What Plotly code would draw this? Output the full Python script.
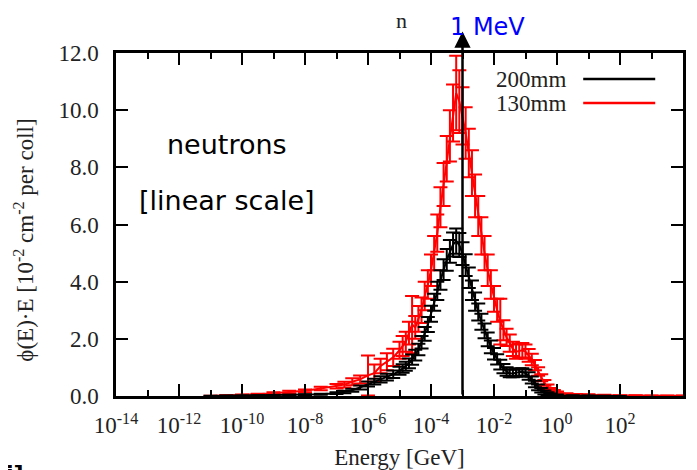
import numpy as np
import plotly.graph_objects as go

# log10(E/GeV) bins and phi(E)*E values [1e-2 cm^-2 per coll]
black_loge = [-11.0, -10.5, -10.0, -9.5, -9.0, -8.5, -8.0, -7.5, -7.0, -6.75, -6.5, -6.25, -6.0,
              -5.8, -5.6, -5.4, -5.2,
              -5.0, -4.9, -4.8, -4.7, -4.6, -4.5, -4.4, -4.3, -4.2, -4.1,
              -4.0, -3.9, -3.8, -3.7, -3.6, -3.5, -3.4, -3.3, -3.2, -3.1,
              -3.0, -2.9, -2.8, -2.7, -2.6, -2.5, -2.4, -2.3, -2.2, -2.1,
              -2.0, -1.9, -1.8, -1.7, -1.6, -1.5, -1.4, -1.3, -1.2, -1.1,
              -1.0, -0.9, -0.8, -0.7, -0.6, -0.5, -0.4, -0.3, -0.2,
              0.0, 0.5, 1.0, 1.5, 2.0]
black_val = [0.0, 0.005, 0.01, 0.015, 0.02, 0.03, 0.04, 0.06, 0.10, 0.14, 0.2, 0.3, 0.42,
             0.5, 0.58, 0.66, 0.76,
             0.88, 0.96, 1.04, 1.14, 1.27, 1.43, 1.63, 1.88, 2.17, 2.5,
             2.88, 3.28, 3.68, 4.06, 4.42, 4.76, 5.06, 5.3, 5.42, 5.28,
             4.98, 4.58, 4.14, 3.7, 3.3, 2.94, 2.6, 2.28, 1.98, 1.72,
             1.48, 1.28, 1.1, 0.96, 0.86, 0.8, 0.79, 0.81, 0.84, 0.84,
             0.8, 0.7, 0.56, 0.42, 0.3, 0.2, 0.12, 0.07, 0.04,
             0.02, 0.01, 0.005, 0.002, 0.0]
black_err = [0.01, 0.01, 0.01, 0.01, 0.01, 0.01, 0.02, 0.02, 0.03, 0.04, 0.05, 0.07, 0.09,
             0.1, 0.11, 0.12, 0.13,
             0.14, 0.15, 0.16, 0.17, 0.18, 0.19, 0.2, 0.22, 0.24, 0.26,
             0.28, 0.3, 0.32, 0.34, 0.36, 0.38, 0.4, 0.42, 0.44, 0.42,
             0.4, 0.38, 0.36, 0.34, 0.32, 0.3, 0.28, 0.26, 0.24, 0.22,
             0.2, 0.18, 0.17, 0.16, 0.15, 0.14, 0.13, 0.13, 0.13, 0.13,
             0.13, 0.13, 0.12, 0.11, 0.1, 0.08, 0.07, 0.06, 0.05,
             0.03, 0.02, 0.01, 0.01, 0.0]

red_loge = [-11.0, -10.5, -10.0, -9.5, -9.0, -8.5, -8.0, -7.5, -7.0, -6.75, -6.5, -6.25, -6.0,
            -5.8, -5.6, -5.4, -5.2,
            -5.0, -4.9, -4.8, -4.7, -4.6, -4.5, -4.4, -4.3, -4.2, -4.1,
            -4.0, -3.9, -3.8, -3.7, -3.6, -3.5, -3.4, -3.3, -3.2, -3.1,
            -3.0, -2.9, -2.8, -2.7, -2.6, -2.5, -2.4, -2.3, -2.2, -2.1,
            -2.0, -1.9, -1.8, -1.7, -1.6, -1.5, -1.4, -1.3, -1.2, -1.1,
            -1.0, -0.9, -0.8, -0.7, -0.6, -0.5, -0.4, -0.3, -0.2,
            -0.1, 0.0, 0.3, 0.6, 1.0, 1.5, 2.0, 2.5, 3.0, 3.5, 4.0]
red_val = [0.0, 0.02, 0.03, 0.06, 0.1, 0.14, 0.18, 0.26, 0.34, 0.4, 0.5, 0.58, 0.72,
           0.8, 1.05, 1.2, 1.35,
           1.6, 1.75, 1.9, 2.2, 2.5, 2.4, 2.7, 3.0, 3.5, 3.9,
           4.4, 5.0, 5.7, 6.6, 7.4, 8.3, 9.1, 9.9, 10.6, 10.3,
           9.8, 9.2, 8.5, 7.8, 7.0, 6.3, 5.6, 5.0, 4.4, 3.9,
           3.4, 3.0, 2.6, 2.3, 2.05, 1.85, 1.65, 1.55, 1.58, 1.6,
           1.55, 1.42, 1.28, 1.08, 0.86, 0.64, 0.46, 0.32, 0.22,
           0.16, 0.12, 0.07, 0.05, 0.04, 0.03, 0.02, 0.02, 0.01, 0.01, 0.01]
red_err = [0.01, 0.01, 0.02, 0.02, 0.03, 0.04, 0.05, 0.06, 0.08, 0.1, 0.12, 0.14, 0.7,
           0.3, 0.25, 0.3, 0.3,
           0.3, 0.35, 0.35, 0.4, 1.0, 0.4, 0.45, 0.45, 0.5, 0.5,
           0.55, 0.6, 0.65, 0.7, 0.75, 0.8, 0.9, 1.0, 1.3, 1.1,
           1.0, 0.9, 0.85, 0.8, 0.75, 0.7, 0.65, 0.6, 0.55, 0.5,
           0.45, 0.4, 0.8, 0.35, 0.3, 0.3, 0.25, 0.25, 0.25, 0.25,
           0.25, 0.22, 0.2, 0.18, 0.15, 0.12, 0.1, 0.08, 0.06,
           0.05, 0.04, 0.03, 0.02, 0.02, 0.01, 0.01, 0.01, 0.01, 0.01, 0.01]

x_exps = [-14, -12, -10, -8, -6, -4, -2, 0, 2, 4]
x_minor_exps = [-13, -11, -9, -7, -5, -3, -1, 1, 3]
y_ticks = [0, 2, 4, 6, 8, 10, 12]

serif = "Liberation Serif"
sans = "DejaVu Sans"

fig = go.Figure()

# red first so the 200mm band sits on top where they overlap
for name, loge, val, err, col in [("130mm", red_loge, red_val, red_err, "#ff0000"),
                                  ("200mm", black_loge, black_val, black_err, "#000000")]:
    fig.add_trace(go.Scatter(
        x=10.0 ** np.array(loge), y=val, mode="lines", name=name,
        line=dict(color=col, width=2),
        error_y=dict(type="data", array=err, color=col, thickness=2, width=7),
        showlegend=False,
    ))

axis_common = dict(showline=True, linecolor="black", linewidth=2.5, mirror="allticks",
                   ticks="inside", ticklen=12, tickwidth=2, tickcolor="black",
                   showgrid=False, zeroline=False, automargin=False,
                   tickfont=dict(family=serif, size=23, color="#222"))

fig.update_xaxes(type="log", range=[-14, 4],
                 tickvals=[10.0 ** e for e in x_exps],
                 ticktext=[f"10<sup>{e}</sup>" for e in x_exps],
                 ticklabelstandoff=7,
                 minor=dict(ticks="inside", ticklen=6, tickwidth=2, tickcolor="black",
                            tickvals=[10.0 ** e for e in x_minor_exps]),
                 title=dict(text="Energy [GeV]", font=dict(family=serif, size=23, color="#222"),
                            standoff=14),
                 **axis_common)
fig.update_yaxes(range=[0, 12], tickvals=y_ticks, tickformat=".1f", ticklabelstandoff=10,
                 **axis_common)

# y title as a rotated annotation (sits a bit below the plot centre in the original)
fig.add_annotation(x=-0.161, y=0.455, xref="paper", yref="paper", textangle=-90,
                   xanchor="center", yanchor="middle", showarrow=False,
                   text="\u03d5(E)\u00b7E [10<sup>-2</sup> cm<sup>-2</sup> per coll]",
                   font=dict(family=serif, size=23, color="#222"))

# legend drawn gnuplot-style: text first, sample line to the right
leg = [("200mm", "#000000", 0.924), ("130mm", "#ff0000", 0.854)]
for name, col, yy in leg:
    fig.add_annotation(x=0.797, y=yy, xref="paper", yref="paper", xanchor="right",
                       yanchor="middle", text=name, showarrow=False,
                       font=dict(family=serif, size=23, color="#222"))
    fig.add_shape(type="line", xref="paper", yref="paper", x0=0.824, x1=0.951, y0=yy, y1=yy,
                  line=dict(color=col, width=2.5))

# 1 MeV arrow
fig.add_annotation(x=-3, y=12.75, ax=-3, ay=0, xref="x", yref="y", axref="x", ayref="y",
                   showarrow=True, arrowhead=2, arrowsize=1.3, arrowwidth=2.5,
                   arrowcolor="black", text="")
fig.add_annotation(x=0.656, y=1.076, xref="paper", yref="paper", text="1 MeV",
                   xanchor="center", yanchor="middle",
                   showarrow=False, font=dict(family=sans, size=24, color="#0000ff"))
fig.add_annotation(x=0.503, y=1.096, xref="paper", yref="paper", text="n",
                   xanchor="center", yanchor="middle",
                   showarrow=False, font=dict(family=serif, size=22, color="#222"))

fig.add_annotation(x=0.196, y=0.732, xref="paper", yref="paper", text="neutrons",
                   xanchor="center", yanchor="middle",
                   showarrow=False, font=dict(family=sans, size=27, color="black"))
fig.add_annotation(x=0.196, y=0.571, xref="paper", yref="paper", text="[linear scale]",
                   xanchor="center", yanchor="middle",
                   showarrow=False, font=dict(family=sans, size=27, color="black"))

# clipped fragment at the bottom-left edge of the original slide
fig.add_annotation(x=-0.216, y=-0.185, xref="paper", yref="paper", xanchor="left",
                   yanchor="top", text="<b>[i]</b>", showarrow=False,
                   font=dict(family=sans, size=22, color="black"))

# page body keeps an 8px margin, so the figure is 8px smaller than the window
fig.update_layout(width=689, height=462, margin=dict(l=108, r=14, t=45, b=74),
                  plot_bgcolor="white", paper_bgcolor="white")

fig.write_html("out.html")
